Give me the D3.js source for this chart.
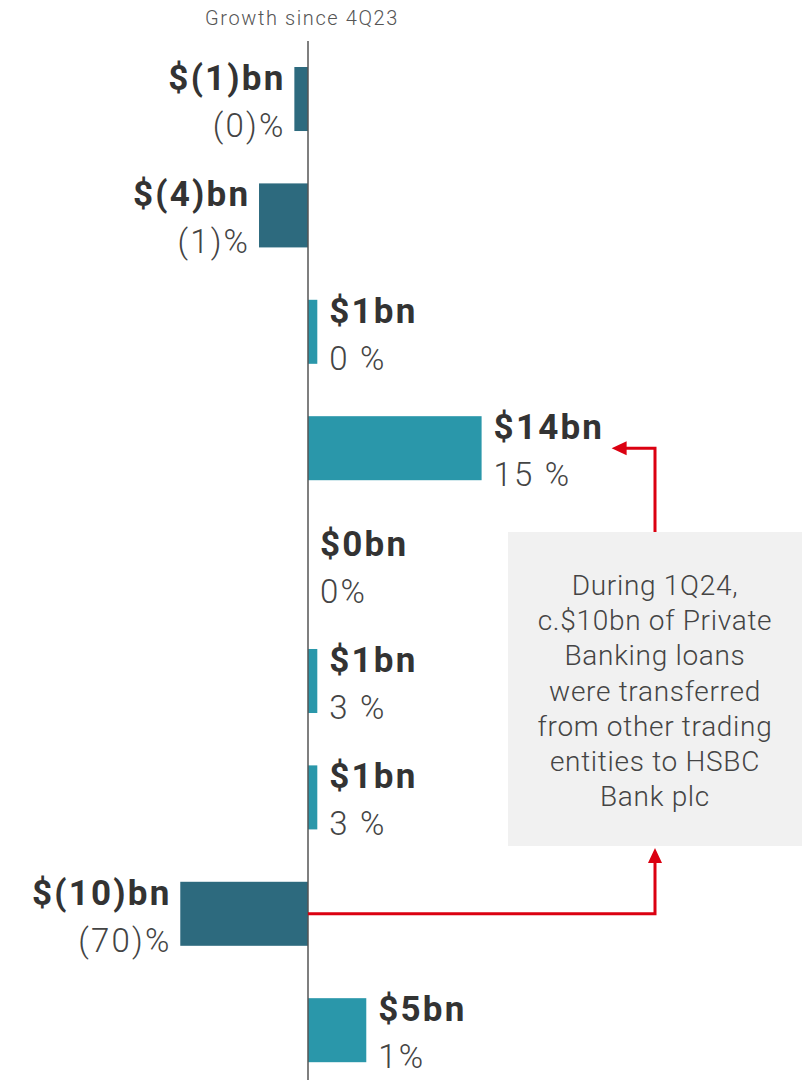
<!DOCTYPE html>
<html>
<head>
<meta charset="utf-8">
<script src="https://cdn.jsdelivr.net/npm/d3@7"></script>
<style>
  body { margin: 0; background: #fff; }
  svg { display: block; font-family: Roboto, "Noto Sans", sans-serif; }
</style>
</head>
<body>
<svg id="chart"></svg>
<script>
// growth since 4Q23, $bn
var values = [-1.1, -3.95, 0.75, 14, 0, 0.75, 0.75, -10.3, 4.7]
var valueLabels = ['$(1)bn', '$(4)bn', '$1bn', '$14bn', '$0bn', '$1bn', '$1bn', '$(10)bn', '$5bn']
var pctLabels = ['(0)%', '(1)%', '0 %', '15 %', '0%', '3 %', '3 %', '(70)%', '1%']
var noteLines = ['During 1Q24,', 'c.$10bn of Private', 'Banking loans', 'were transferred',
  'from other trading', 'entities to HSBC', 'Bank plc']
var title = 'Growth since 4Q23'

var width = 807,
    height = 1080

var svg = d3.select('#chart')
  .attr('width', width)
  .attr('height', height)

var x = d3.scaleLinear()
  .domain([0, 14])
  .range([308, 481.6])

var y = d3.scaleBand()
  .domain(d3.range(values.length))
  .range([67, 1062.2])
  .paddingInner(0.45)
  .paddingOuter(0)

// title
svg.append('text')
  .attr('x', 302)
  .attr('y', 25)
  .attr('text-anchor', 'middle')
  .attr('font-size', 20)
  .attr('font-weight', 300)
  .attr('letter-spacing', 1.6)
  .attr('fill', '#555')
  .text(title)

// bars
svg.selectAll('rect.bar')
  .data(values)
  .enter()
  .append('rect')
  .attr('class', 'bar')
  .attr('x', function (d) { return x(Math.min(0, d)) })
  .attr('y', function (d, i) { return y(i) })
  .attr('width', function (d) { return Math.abs(x(d) - x(0)) })
  .attr('height', y.bandwidth())
  .attr('fill', function (d) { return d < 0 ? '#2d6a7e' : '#2a97aa' })

// zero axis
svg.append('line')
  .attr('x1', x(0)).attr('x2', x(0))
  .attr('y1', 41).attr('y2', height)
  .attr('stroke', '#555')
  .attr('stroke-width', 1.5)

// labels (end-anchored ones nudged right to cancel trailing letter-spacing)
var spacing = 2.2
var labels = svg.selectAll('g.label')
  .data(values)
  .enter()
  .append('g')
  .attr('class', 'label')
  .attr('transform', function (d, i) {
    var lx = d < 0 ? x(d) - 11 + spacing : x(d) + 12
    return 'translate(' + lx + ',' + y(i) + ')'
  })
  .attr('text-anchor', function (d) { return d < 0 ? 'end' : 'start' })

labels.append('text')
  .attr('y', 23)
  .attr('font-size', 35)
  .attr('font-weight', 700)
  .attr('letter-spacing', spacing)
  .attr('fill', '#333')
  .text(function (d, i) { return valueLabels[i] })

labels.append('text')
  .attr('y', 70)
  .attr('font-size', 33)
  .attr('font-weight', 300)
  .attr('letter-spacing', spacing)
  .attr('fill', '#444')
  .text(function (d, i) { return pctLabels[i] })

// annotation box
var box = { x: 508, y: 532, w: 294, h: 314 }
var cx = box.x + box.w / 2

svg.append('rect')
  .attr('x', box.x).attr('y', box.y)
  .attr('width', box.w).attr('height', box.h)
  .attr('fill', '#f1f1f1')

svg.append('g')
  .attr('text-anchor', 'middle')
  .attr('font-size', 28)
  .attr('font-weight', 300)
  .attr('letter-spacing', 0.7)
  .attr('fill', '#444')
  .selectAll('text')
  .data(noteLines)
  .enter()
  .append('text')
  .attr('x', cx)
  .attr('y', function (d, i) { return 595 + i * 35.2 })
  .text(function (d) { return d })

// red connectors
var red = '#db0011'
var yTop = y(3) + y.bandwidth() / 2
var yBot = y(7) + y.bandwidth() / 2

svg.append('path')
  .attr('d', 'M' + cx + ',' + box.y + 'V' + yTop + 'H' + (x(14) + 142))
  .attr('fill', 'none')
  .attr('stroke', red)
  .attr('stroke-width', 3)

svg.append('path')
  .attr('d', 'M' + (x(14) + 130) + ',' + yTop + 'l15,-7v14z')
  .attr('fill', red)

svg.append('path')
  .attr('d', 'M' + x(0) + ',' + yBot + 'H' + cx + 'V' + (box.y + box.h + 12))
  .attr('fill', 'none')
  .attr('stroke', red)
  .attr('stroke-width', 3)

svg.append('path')
  .attr('d', 'M' + cx + ',' + (box.y + box.h + 2) + 'l-7,15h14z')
  .attr('fill', red)
</script>
</body>
</html>
